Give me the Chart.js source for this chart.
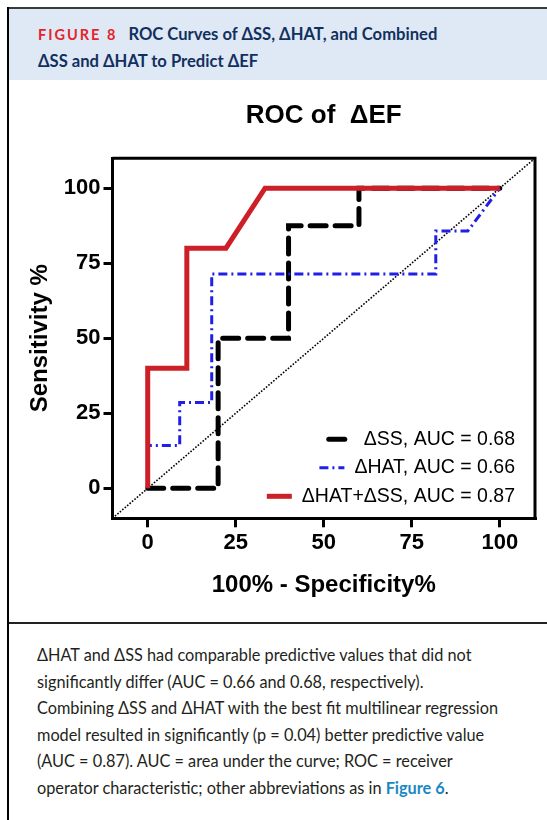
<!DOCTYPE html>
<html>
<head>
<meta charset="utf-8">
<script src="https://cdn.jsdelivr.net/npm/chart.js@4.4.1/dist/chart.umd.min.js"></script>
<style>
  html, body { margin: 0; padding: 0; background: #fff; }
  body { width: 547px; height: 820px; position: relative; overflow: hidden; }
  .frame-left { position: absolute; left: 7px; top: 7px; width: 2px; height: 813px; background: #000; }
  .frame-top { position: absolute; left: 7px; top: 7px; width: 540px; height: 2px; background: #3a3a3a; }
  .head { position: absolute; left: 9px; top: 9px; width: 538px; height: 71px; background: #dfe9f5; }
  .head-text { position: absolute; left: 29px; top: 12px; font-family: Lato, "Open Sans", sans-serif; font-weight: bold;
    font-size: 16.6px; line-height: 26px; color: #12305e; white-space: nowrap; }
  .fig { color: #e3242b; font-size: 14.5px; letter-spacing: 2px; margin-right: 11px; }
  .plot { position: absolute; left: 9px; top: 82px; width: 538px; height: 540px; }
  .divider { position: absolute; left: 9px; top: 622px; width: 538px; height: 2px; background: #222; }
  .caption { position: absolute; left: 37px; top: 642px; font-family: Lato, "Open Sans", sans-serif; font-size: 16.3px;
    line-height: 26.5px; color: #231f20; white-space: nowrap; }
  .caption a { color: #1a87c4; font-weight: bold; text-decoration: none; }
</style>
</head>
<body>
<div class="frame-top"></div>
<div class="head">
  <div class="head-text"><span class="fig">FIGURE 8</span>ROC Curves of ΔSS, ΔHAT, and Combined<br>ΔSS and ΔHAT to Predict ΔEF</div>
</div>
<div class="frame-left"></div>
<div class="plot"><canvas id="rocChart"></canvas></div>
<div class="divider"></div>
<div class="caption">
  ΔHAT and ΔSS had comparable predictive values that did not<br>
  significantly differ (AUC = 0.66 and 0.68, respectively).<br>
  Combining ΔSS and ΔHAT with the best fit multilinear regression<br>
  model resulted in significantly (p = 0.04) better predictive value<br>
  (AUC = 0.87). AUC = area under the curve; ROC = receiver<br>
  operator characteristic; other abbreviations as in <a>Figure 6</a>.
</div>
<script>
// 100% - specificity (x) and sensitivity (y)
const ssX = [0, 20, 20, 40, 40, 60, 60, 100];
const ssY = [0, 0, 50, 50, 87.5, 87.5, 100, 100];
const hatX = [0, 0, 9.09, 9.09, 18.18, 18.18, 81.82, 81.82, 90.91, 100];
const hatY = [0, 14.29, 14.29, 28.57, 28.57, 71.43, 71.43, 85.71, 85.71, 100];
const comboX = [0, 0, 11.11, 11.11, 22.22, 33.33, 100];
const comboY = [0, 40, 40, 80, 80, 100, 100];
const chanceX = [-10, 110];
const chanceY = [-10, 110];
const axisTicks = [0, 25, 50, 75, 100];
const seriesLabels = ["ΔSS, AUC = 0.68", "ΔHAT, AUC = 0.66", "ΔHAT+ΔSS, AUC = 0.87"];

const FONT = "'Liberation Sans', Arial, sans-serif";

function toPoints(xs, ys) {
  return xs.map((x, i) => ({ x: x, y: ys[i] }));
}

// box lines on the top and right of the plot
const plotFrame = {
  id: "plotFrame",
  afterDraw(chart) {
    const { ctx, chartArea: a } = chart;
    ctx.save();
    ctx.strokeStyle = "#000";
    ctx.lineWidth = 3;
    ctx.beginPath();
    ctx.moveTo(a.left, a.top);
    ctx.lineTo(a.right, a.top);
    ctx.lineTo(a.right, a.bottom);
    ctx.stroke();
    ctx.restore();
  }
};

// legend drawn inside the plot, right aligned
const insideLegend = {
  id: "insideLegend",
  afterDraw(chart) {
    const { ctx, chartArea: a } = chart;
    const sets = chart.data.datasets.filter(d => d.legendRow !== undefined);
    ctx.save();
    ctx.font = "19.5px " + FONT;
    ctx.textAlign = "right";
    ctx.textBaseline = "middle";
    sets.forEach(d => {
      const y = a.bottom - 22 - 28.5 * (sets.length - 1 - d.legendRow);
      const right = a.right - 20;
      const w = ctx.measureText(d.label).width;
      const start = right - w;
      ctx.fillStyle = "#000";
      ctx.fillText(d.label, right, y);
      ctx.beginPath();
      ctx.strokeStyle = d.borderColor;
      ctx.lineWidth = d.borderWidth;
      ctx.lineCap = d.borderCapStyle || "butt";
      ctx.setLineDash(d.borderDash || []);
      ctx.moveTo(start - 35, y);
      ctx.lineTo(start - 10, y);
      ctx.stroke();
    });
    ctx.restore();
  }
};

const ctx = document.getElementById("rocChart");
new Chart(ctx.getContext("2d"), {
  type: "scatter",
  data: {
    datasets: [
      {
        label: seriesLabels[2],
        data: toPoints(comboX, comboY),
        showLine: true,
        borderColor: "#cc1f27",
        borderWidth: 5,
        borderJoinStyle: "miter",
        pointRadius: 0,
        order: 0,
        legendRow: 2
      },
      {
        label: seriesLabels[1],
        data: toPoints(hatX, hatY),
        showLine: true,
        borderColor: "#1f1fe6",
        borderWidth: 3,
        borderDash: [9, 4, 2, 4],
        pointRadius: 0,
        order: 1,
        legendRow: 1
      },
      {
        label: seriesLabels[0],
        data: toPoints(ssX, ssY),
        showLine: true,
        borderColor: "#000",
        borderWidth: 5,
        borderDash: [16, 9],
        borderCapStyle: "round",
        pointRadius: 0,
        order: 2,
        legendRow: 0
      },
      {
        label: "chance",
        data: toPoints(chanceX, chanceY),
        showLine: true,
        borderColor: "#000",
        borderWidth: 1.6,
        borderDash: [1.6, 1.6],
        pointRadius: 0,
        order: 3
      }
    ]
  },
  options: {
    responsive: true,
    maintainAspectRatio: false,
    animation: false,
    layout: { padding: { left: 8, right: 12, top: 0, bottom: 9.5 } },
    plugins: {
      legend: { display: false },
      tooltip: { enabled: false },
      title: {
        display: true,
        fullSize: false,
        text: "ROC of  ΔEF",
        color: "#000",
        font: { family: FONT, size: 26, weight: "bold" },
        padding: { top: 18, bottom: 27 }
      }
    },
    scales: {
      x: {
        type: "linear",
        min: -10,
        max: 110,
        afterBuildTicks: s => { s.ticks = axisTicks.map(v => ({ value: v })); },
        grid: { drawOnChartArea: false, drawTicks: true, tickLength: 9, color: "#000", lineWidth: 3 },
        border: { color: "#000", width: 3 },
        ticks: { color: "#000", padding: 2, font: { family: FONT, size: 22, weight: "bold" } },
        title: {
          display: true,
          text: "100% - Specificity%",
          color: "#000",
          font: { family: FONT, size: 24, weight: "bold" },
          padding: { top: 13, bottom: 13 }
        }
      },
      y: {
        type: "linear",
        min: -10,
        max: 110,
        afterBuildTicks: s => { s.ticks = axisTicks.map(v => ({ value: v })); },
        grid: { drawOnChartArea: false, drawTicks: true, tickLength: 9, color: "#000", lineWidth: 3 },
        border: { color: "#000", width: 3 },
        ticks: { color: "#000", padding: 3, font: { family: FONT, size: 22, weight: "bold" } },
        title: {
          display: true,
          text: "Sensitivity %",
          color: "#000",
          font: { family: FONT, size: 24, weight: "bold" },
          padding: { top: 9, bottom: 6 }
        }
      }
    }
  },
  plugins: [plotFrame, insideLegend]
});
</script>
</body>
</html>
